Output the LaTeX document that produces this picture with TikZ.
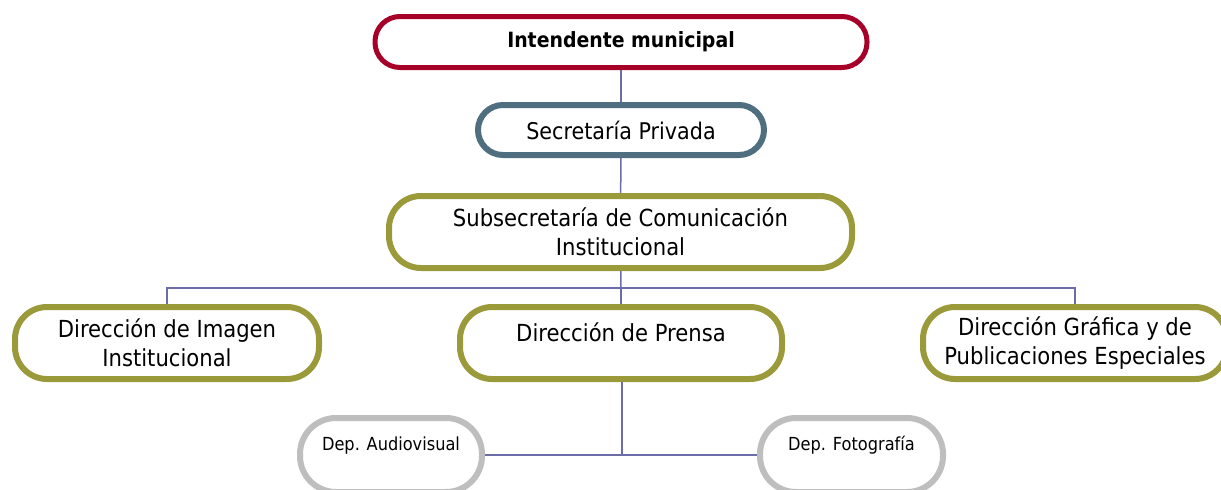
\documentclass[tikz,border=0pt]{standalone}
\usepackage{fontspec}
\setmainfont{DejaVu Sans Condensed}
\usetikzlibrary{calc}
\tikzset{>=latex}
\definecolor{intred}{RGB}{166,0,40}
\definecolor{secblue}{RGB}{79,110,128}
\definecolor{dirolive}{RGB}{155,154,58}
\definecolor{depgray}{RGB}{190,190,190}
\definecolor{linkblue}{RGB}{108,108,168}
\tikzstyle{unit}=[draw,fill=white,text=black,align=center,inner sep=0pt,
  font=\fontsize{23.5}{28.5}\selectfont]
\tikzstyle{chief}=[unit,draw=intred,line width=5pt,rounded corners=25pt,font=\fontsize{21}{28}\selectfont\bfseries]
\tikzstyle{office}=[unit,draw=secblue,line width=6pt,rounded corners=25pt,font=\fontsize{23}{28}\selectfont]
\tikzstyle{direction}=[unit,draw=dirolive,line width=6pt,rounded corners=32pt,minimum height=72pt]
\tikzstyle{dept}=[unit,draw=depgray,line width=6pt,rounded corners=36pt,minimum height=74pt,
  text height=13pt,text depth=23pt,font=\fontsize{18}{22}\selectfont]
\tikzstyle{link}=[linkblue,line width=1.5pt]

\begin{document}
\begin{tikzpicture}[x=1pt,y=-1pt]
  \useasboundingbox (0,0) rectangle (1221,490);
  \clip (0,0) rectangle (1221,490);

  % UNITS
  \node[chief,minimum width=492pt,minimum height=51pt] (int) at (621,42) {Intendente municipal};
  \node[office,minimum width=286pt,minimum height=50pt] (sec) at (621,130) {Secretaría Privada};
  \node[direction,minimum width=463pt] (sub) at (620.5,232) {Subsecretaría de Comunicación\\Institucional};
  \node[direction,minimum width=304pt] (img) at (167,343) {Dirección de Imagen\\Institucional};
  \node[direction,minimum width=322pt,text height=17pt,text depth=20pt] (pren) at (621,343) {Dirección de Prensa};
  \node[direction,minimum width=304pt] (graf) at (1075,343) {Dirección Gráfica y de\\Publicaciones Especiales};
  \node[dept,minimum width=182pt] (aud) at (391,455) {Dep. Audiovisual};
  \node[dept,minimum width=183pt] (fot) at (851.5,455) {Dep. Fotografía};
  \coordinate (bus) at (621,288); % branch to directions
  \coordinate (dep) at (622,455); % branch to departments

  % LINKS
  \draw[link] (int) -- (sec);
  \draw[link] (sec) -- (sub);
  \draw[link] (sub) -- (bus);
  \draw[link] (img.north) |- (bus) -| (graf.north);
  \draw[link] (bus) -- (bus |- pren.north);
  \draw[link] (pren.south -| dep) -- (dep);
  \draw[link] (aud.east) -- (fot.west);
\end{tikzpicture}
\end{document}
